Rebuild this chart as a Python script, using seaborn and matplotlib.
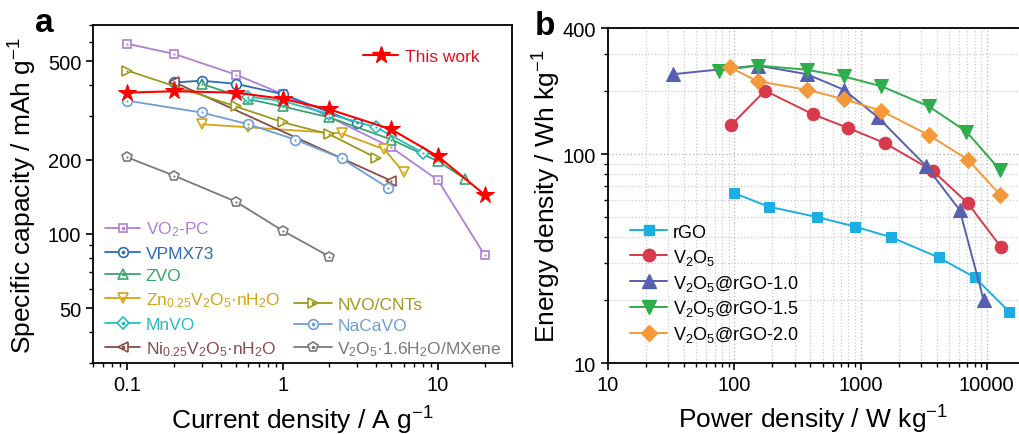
import numpy as np
import pandas as pd
import matplotlib
matplotlib.use("Agg")
import matplotlib.pyplot as plt
import seaborn as sns
from matplotlib.lines import Line2D
from matplotlib.ticker import FixedLocator, NullFormatter, FixedFormatter, LogLocator

# ---------------- Panel a data ----------------
this_x = [0.1, 0.2, 0.5, 1, 2, 5, 10, 20]
this_y = [373, 378, 373, 352, 319, 265, 206, 144]
vo2_x = [0.1, 0.2, 0.5, 1, 5, 10, 20]
vo2_y = [588, 535, 441, 368, 224, 165, 82]
vpmx_x = [0.2, 0.3, 0.5, 1, 3]
vpmx_y = [410, 417, 405, 368, 281]
zvo_x = [0.3, 0.6, 1, 2, 5, 10, 15]
zvo_y = [405, 351, 328, 296, 241, 197, 167]
zn_x = [0.3, 0.6, 2.4, 4.5, 6]
zn_y = [278, 270, 255, 220, 178]
mnvo_x = [0.6, 1, 2, 4, 8]
mnvo_y = [359, 345, 305, 270, 213]
ni_x = [0.2, 5]
ni_y = [411, 164]
nvo_x = [0.1, 0.5, 1, 2, 4]
nvo_y = [458, 328, 283, 253, 203]
nacavo_x = [0.1, 0.3, 0.6, 1.2, 2.4, 4.8]
nacavo_y = [346, 310, 278, 241, 202, 153]
mxene_x = [0.1, 0.2, 0.5, 1, 2]
mxene_y = [204, 172, 135, 103, 81]

# ---------------- Panel b data ----------------
rgo_x = [100, 187, 450, 900, 1750, 4160, 8030, 15070]
rgo_y = [65, 56, 50, 45, 40, 32, 25.7, 17.6]
v2o5_x = [94, 175, 419, 803, 1550, 3750, 7100, 12900]
v2o5_y = [137, 201, 155, 133, 113, 83, 58, 36]
r10_x = [33, 153, 375, 738, 1372, 3280, 6100, 9460]
r10_y = [241, 265, 241, 203, 150, 88, 54, 20]
r15_x = [75, 153, 375, 738, 1460, 3480, 6900, 12700]
r15_y = [250, 265, 253, 235, 211, 169, 128, 84]
r20_x = [92, 153, 375, 738, 1460, 3480, 7100, 12700]
r20_y = [260, 223, 203, 183, 161, 123, 94, 64]

sns.set_theme(style="ticks")
plt.rcParams["font.family"] = ["Liberation Sans", "DejaVu Sans"]
plt.rcParams["mathtext.fontset"] = "custom"
plt.rcParams["mathtext.rm"] = "Liberation Sans"
plt.rcParams["mathtext.it"] = "Liberation Sans:italic"
plt.rcParams["mathtext.default"] = "regular"
plt.rcParams["axes.linewidth"] = 1.3
for k in ["text.color", "axes.labelcolor", "xtick.color", "ytick.color", "axes.edgecolor"]:
    plt.rcParams[k] = "black"

fig = plt.figure(figsize=(10.19, 4.35), dpi=100)
axa = fig.add_axes([0.0913, 0.163, 0.4112, 0.777])
axb = fig.add_axes([0.5967, 0.163, 0.4033, 0.770])

# ---------------- Panel a ----------------
series_a = [
    ("VO$_2$-PC", vo2_x, vo2_y, "#B07FD6", "s", 6),
    ("VPMX73", vpmx_x, vpmx_y, "#2A6CB8", "o", 7),
    ("ZVO", zvo_x, zvo_y, "#3BA36E", "^", 7),
    ("Zn$_{0.25}$V$_2$O$_5$·nH$_2$O", zn_x, zn_y, "#D4A416", "v", 7),
    ("MnVO", mnvo_x, mnvo_y, "#27BDBD", "D", 6),
    ("Ni$_{0.25}$V$_2$O$_5$·nH$_2$O", ni_x, ni_y, "#8A4B4B", "<", 7),
    ("NVO/CNTs", nvo_x, nvo_y, "#9C9A1E", ">", 7),
    ("NaCaVO", nacavo_x, nacavo_y, "#6E9FD2", "o", 7),
    ("V$_2$O$_5$·1.6H$_2$O/MXene", mxene_x, mxene_y, "#7A7A7A", "p", 7.5),
]

handles_a = []
for name, xs, ys, col, mk, ms in series_a:
    df = pd.DataFrame({"x": xs, "y": ys})
    sns.lineplot(data=df, x="x", y="y", ax=axa, color=col, lw=1.3,
                 marker=mk, markersize=ms, markerfacecolor="white",
                 markeredgecolor=col, markeredgewidth=1.2, estimator=None,
                 sort=False)
    axa.scatter(xs, ys, s=2.5, color=col, zorder=3, linewidths=0)
    h = (Line2D([], [], color=col, lw=1.3, marker=mk, markersize=ms,
                markerfacecolor="white", markeredgecolor=col, markeredgewidth=1.2),
         Line2D([], [], ls="none", marker="o", markersize=1.6, color=col))
    handles_a.append((h, name, col))

dfw = pd.DataFrame({"x": this_x, "y": this_y})
sns.lineplot(data=dfw, x="x", y="y", ax=axa, color="#FF0000", lw=1.5,
             marker="*", markersize=13, markeredgecolor="#FF0000",
             markerfacecolor="#FF0000", estimator=None, sort=False, zorder=5)

axa.set_xscale("log")
axa.set_yscale("log")
axa.set_xlim(0.06, 30)
axa.set_ylim(30, 700)
axa.xaxis.set_major_locator(FixedLocator([0.1, 1, 10]))
axa.xaxis.set_major_formatter(FixedFormatter(["0.1", "1", "10"]))
axa.xaxis.set_minor_locator(LogLocator(base=10, subs=np.arange(2, 10)))
axa.xaxis.set_minor_formatter(NullFormatter())
axa.yaxis.set_major_locator(FixedLocator([50, 100, 200, 500]))
axa.yaxis.set_major_formatter(FixedFormatter(["50", "100", "200", "500"]))
axa.yaxis.set_minor_locator(FixedLocator([30, 40, 60, 70, 80, 90, 300, 400, 600, 700]))
axa.yaxis.set_minor_formatter(NullFormatter())
axa.tick_params(which="major", direction="out", length=5, width=1.2, labelsize=14.5)
axa.tick_params(which="minor", direction="out", length=3, width=1.0)
axa.set_xlabel("Current density / A g$^{-1}$", fontsize=19)
axa.set_ylabel("Specific capacity / mAh g$^{-1}$", fontsize=19)
axa.xaxis.set_label_coords(0.5, -0.12)
axa.yaxis.set_label_coords(-0.13, 0.5)

# Legend "This work"
lw_leg = axa.legend([Line2D([], [], color="#FF0000", lw=1.5, marker="*", markersize=13)],
                    ["This work"], loc="upper right", bbox_to_anchor=(0.96, 0.975),
                    frameon=False, fontsize=12.5, handlelength=2.0, handletextpad=0.4)
for t in lw_leg.get_texts():
    t.set_color("#E0101A")
axa.add_artist(lw_leg)

# Left column legend (first 6)
left = handles_a[:6]
leg1 = axa.legend([h for h, _, _ in left], [n for _, n, _ in left],
                  loc="lower left", bbox_to_anchor=(0.0, -0.02), frameon=False,
                  fontsize=12.5, handlelength=2.0, handletextpad=0.35, labelspacing=0.42,
                  borderaxespad=0.3)
for t, (_, _, c) in zip(leg1.get_texts(), left):
    t.set_color(c)
axa.add_artist(leg1)

right = handles_a[6:]
leg2 = axa.legend([h for h, _, _ in right], [n for _, n, _ in right],
                  loc="lower left", bbox_to_anchor=(0.45, -0.02), frameon=False,
                  fontsize=12.5, handlelength=2.2, handletextpad=0.3, labelspacing=0.35,
                  borderaxespad=0.3)
for t, (_, _, c) in zip(leg2.get_texts(), right):
    t.set_color(c)

# ---------------- Panel b ----------------
axb.grid(True, which="major", color="#BBBBBB", ls=":", lw=1.0)
axb.grid(True, which="minor", color="#CCCCCC", ls=":", lw=0.9)
axb.set_axisbelow(True)

series_b = [
    ("rGO", rgo_x, rgo_y, "#1BAEE3", "s", 7.5),
    ("V$_2$O$_5$", v2o5_x, v2o5_y, "#D8394C", "o", 9),
    ("V$_2$O$_5$@rGO-1.0", r10_x, r10_y, "#5760B0", "^", 9.5),
    ("V$_2$O$_5$@rGO-1.5", r15_x, r15_y, "#2EAD4B", "v", 9.5),
    ("V$_2$O$_5$@rGO-2.0", r20_x, r20_y, "#F4993A", "D", 8),
]
hb = []
for name, xs, ys, col, mk, ms in series_b:
    df = pd.DataFrame({"x": xs, "y": ys})
    sns.lineplot(data=df, x="x", y="y", ax=axb, color=col, lw=1.4,
                 marker=mk, markersize=ms, markeredgecolor=col,
                 markerfacecolor=col, estimator=None, sort=False, clip_on=False)
    hb.append(Line2D([], [], color=col, lw=1.4, marker=mk, markersize=ms,
                     markerfacecolor=col, markeredgecolor=col))

axb.set_xscale("log")
axb.set_yscale("log")
axb.set_xlim(10, 18000)
axb.set_ylim(10, 400)
axb.xaxis.set_major_locator(FixedLocator([10, 100, 1000, 10000]))
axb.xaxis.set_major_formatter(FixedFormatter(["10", "100", "1000", "10000"]))
axb.xaxis.set_minor_locator(LogLocator(base=10, subs=np.arange(2, 10)))
axb.xaxis.set_minor_formatter(NullFormatter())
axb.yaxis.set_major_locator(FixedLocator([10, 100, 400]))
axb.yaxis.set_major_formatter(FixedFormatter(["10", "100", "400"]))
axb.yaxis.set_minor_locator(FixedLocator([20, 30, 40, 50, 60, 70, 80, 90, 200, 300]))
axb.yaxis.set_minor_formatter(NullFormatter())
axb.tick_params(which="major", direction="out", length=5, width=1.2, labelsize=14.5)
axb.tick_params(which="minor", direction="out", length=3, width=1.0)
axb.spines["right"].set_visible(False)
axb.set_xlabel("Power density / W kg$^{-1}$", fontsize=19)
axb.set_ylabel("Energy density / Wh kg$^{-1}$", fontsize=19)
axb.xaxis.set_label_coords(0.5, -0.12)
axb.yaxis.set_label_coords(-0.11, 0.5)

legb = axb.legend(hb, [s[0] for s in series_b], loc="upper left",
                  bbox_to_anchor=(0.015, 0.465), frameon=False, fontsize=13,
                  handlelength=2.0, handletextpad=0.35, labelspacing=0.33)

fig.text(0.043, 0.945, "a", fontsize=24, fontweight="bold", ha="center", va="center")
fig.text(0.535, 0.94, "b", fontsize=24, fontweight="bold", ha="center", va="center")

fig.savefig("out.png", dpi=100)
